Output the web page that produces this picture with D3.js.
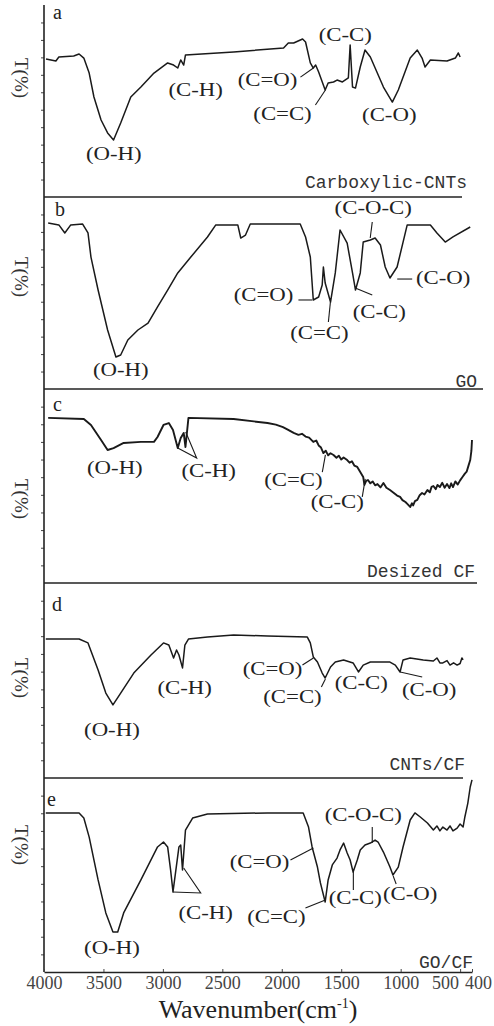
<!DOCTYPE html>
<html>
<head>
<meta charset="utf-8">
<script src="https://cdn.jsdelivr.net/npm/d3@7"></script>
<style>
  body { margin: 0; background: #fff; }
  svg { display: block; }
</style>
</head>
<body>
<div id="chart"></div>
<script>
// tick labels along the wavenumber axis
const wavenumberTicks = [4000, 3500, 3000, 2500, 2000, 1500, 1000, 500, 400];
const panelLetters = ['a', 'b', 'c', 'd', 'e'];
const sampleNames = ['Carboxylic-CNTs', 'GO', 'Desized CF', 'CNTs/CF', 'GO/CF'];

// spectra: [wavenumber (cm-1), transmittance (arb.)]
const spectrumA = [[3983,79.1],[3900,77.9],[3875,80.2],[3750,80.8],[3705,81.9],[3665,79.6],[3620,71.0],[3580,57.3],[3520,44.1],[3465,36.7],[3415,32.7],[3355,42.4],[3270,57.3],[3185,63.0],[3075,71.0],[2960,76.8],[2910,75.6],[2875,73.9],[2850,78.5],[2825,75.6],[2810,81.4],[2405,83.1],[1985,85.4],[1945,88.2],[1900,88.2],[1825,90.5],[1800,88.8],[1760,76.8],[1735,73.9],[1715,75.6],[1690,71.6],[1635,61.3],[1610,65.3],[1565,65.9],[1535,67.0],[1490,65.9],[1440,68.2],[1425,87.1],[1405,63.0],[1380,62.4],[1340,74.5],[1300,84.2],[1255,80.2],[1145,63.0],[1070,54.4],[1020,61.3],[920,79.6],[860,84.2],[820,79.6],[795,74.5],[750,78.5],[610,77.9],[540,79.6],[515,82.5],[500,80.2]];

const spectrumB = [[3965,95.1],[3875,94.0],[3825,89.4],[3775,94.0],[3675,94.5],[3630,89.4],[3605,75.6],[3545,56.7],[3465,33.8],[3395,18.3],[3355,19.5],[3295,28.1],[3210,33.8],[3125,37.8],[3045,47.0],[2960,56.7],[2875,66.5],[2765,75.6],[2625,87.1],[2555,94.0],[2370,94.0],[2345,86.5],[2305,88.2],[2265,94.5],[1845,94.5],[1800,87.1],[1760,75.6],[1735,51.0],[1690,52.7],[1660,59.6],[1650,69.9],[1635,60.7],[1590,49.8],[1550,66.5],[1510,91.1],[1450,83.6],[1405,66.5],[1380,56.7],[1340,66.5],[1315,84.2],[1255,85.4],[1215,86.5],[1170,82.5],[1130,69.9],[1090,63.6],[1030,69.9],[945,94.0],[750,94.0],[695,89.4],[625,84.2],[560,87.1],[415,92.8]];

const spectrumC = [[3965,93.6],[3665,93.0],[3605,89.6],[3520,81.1],[3465,75.4],[3415,76.5],[3330,79.4],[3185,80.0],[3075,80.0],[3045,82.8],[2995,89.6],[2950,90.7],[2915,86.8],[2875,76.5],[2850,82.2],[2825,85.1],[2810,77.1],[2785,93.6],[2405,93.0],[2120,90.7],[2050,89.8],[1990,88.4],[1950,87.0],[1900,85.1],[1860,84.0],[1830,84.6],[1800,83.0],[1770,82.4],[1735,80.0],[1710,80.8],[1690,78.0],[1670,76.8],[1650,73.7],[1630,75.0],[1610,72.4],[1590,73.6],[1565,72.6],[1540,71.0],[1520,72.2],[1500,70.0],[1480,71.2],[1450,69.7],[1430,68.2],[1410,69.0],[1390,66.6],[1365,65.8],[1340,63.0],[1315,60.1],[1305,55.6],[1290,57.9],[1275,58.4],[1255,56.5],[1235,57.6],[1215,55.4],[1195,56.1],[1170,54.2],[1145,56.7],[1120,54.0],[1090,52.7],[1060,51.2],[1030,49.6],[1005,48.8],[985,47.0],[960,45.9],[940,44.6],[920,43.1],[905,45.2],[895,44.0],[880,46.4],[860,47.1],[840,49.8],[820,51.0],[800,50.2],[775,52.7],[755,51.4],[740,54.5],[725,55.0],[705,53.2],[690,55.6],[670,54.4],[650,56.8],[630,54.0],[610,56.1],[590,53.8],[575,56.5],[560,54.4],[540,57.6],[520,55.8],[500,58.2],[480,60.1],[460,62.0],[445,63.1],[430,66.4],[415,69.7],[405,75.0],[400,81.1]];

const spectrumD = [[3985,78.4],[3705,78.4],[3630,76.2],[3545,60.9],[3480,47.9],[3420,41.2],[3355,47.9],[3245,59.2],[3100,69.4],[2995,76.2],[2950,75.0],[2910,67.7],[2885,72.2],[2865,69.4],[2835,62.1],[2815,75.0],[2785,78.4],[2625,79.5],[2405,80.7],[2120,80.1],[1785,79.5],[1760,76.2],[1735,68.3],[1700,65.4],[1660,59.2],[1635,56.4],[1590,62.6],[1550,65.4],[1480,66.6],[1400,64.9],[1355,59.8],[1315,63.7],[1255,65.4],[1090,65.4],[1045,63.7],[1005,59.8],[980,66.6],[920,67.7],[810,66.6],[725,66.0],[695,67.7],[670,64.9],[645,64.9],[610,66.2],[585,63.7],[555,65.0],[525,63.7],[500,64.6],[485,67.7],[475,66.6]];

const spectrumE = [[3985,90.2],[3705,90.2],[3665,87.3],[3620,76.5],[3545,52.2],[3480,33.5],[3420,22.7],[3380,22.7],[3330,33.5],[3185,52.2],[3045,70.9],[2995,73.7],[2960,70.9],[2935,57.8],[2915,45.4],[2865,70.9],[2850,72.0],[2835,57.8],[2810,80.5],[2750,87.3],[2625,89.6],[2120,90.2],[1820,90.2],[1775,82.2],[1745,70.9],[1700,59.5],[1675,50.5],[1635,39.7],[1610,52.2],[1575,60.7],[1535,64.6],[1510,69.2],[1480,73.1],[1450,67.5],[1425,63.5],[1400,56.7],[1365,63.5],[1340,69.2],[1300,72.0],[1255,73.1],[1215,74.8],[1190,73.7],[1145,68.0],[1090,59.5],[1065,55.0],[1020,59.5],[980,70.9],[920,86.2],[880,90.2],[835,87.9],[775,84.5],[725,80.5],[695,82.8],[670,80.0],[645,82.2],[610,80.5],[585,82.8],[560,80.0],[525,81.6],[500,83.9],[475,82.2],[460,87.9],[435,95.8],[415,104.9],[400,108.9]];

// band labels: [text, wavenumber, transmittance]
const labelsA = [['(O-H)',3413,21.2],['(C-H)',2724,57.9],['(C=O)',2120,63.6],['(C=C)',1994,44.1],['(C-C)',1466,89.4],['(C-O)',1096,43.5]];
const labelsB = [['(O-H)',3354,7.4],['(C=O)',2154,50.4],['(C=C)',1684,28.6],['(C-C)',1180,40.7],['(C-O-C)',1231,100.3],['(C-O)',643,60.2]];
const labelsC = [['(O-H)',3404,61.8],['(C-H)',2615,60.1],['(C=C)',1902,55.0],['(C-C)',1533,42.5]];
const labelsD = [['(O-H)',3429,23.7],['(C-H)',2817,47.4],['(C=O)',2078,58.1],['(C=C)',1910,42.3],['(C-C)',1331,50.2],['(C-O)',761,46.3]];
const labelsE = [['(O-H)',3429,10.2],['(C-H)',2640,30.1],['(C=O)',2187,59.0],['(C=C)',2045,27.8],['(C-C)',1382,38.6],['(C-O)',920,40.8],['(C-O-C)',1315,85.6]];

// leader lines from labels to bands
const leadersA = [[[1843,68.7],[1734,73.9]], [[1717,52.7],[1633,61.3]]];
const leadersB = [[[1860,51.0],[1743,51.0]], [[1608,38.4],[1591,49.8]], [[1382,57.9],[1239,53.9]], [[1239,95.7],[1256,86.5]], [[1029,63.0],[903,63.0]]];
const leadersC = [[[2875,76.5],[2716,70.9],[2808,85.6]], [[1659,62.9],[1633,72.6]], [[1323,48.8],[1298,59.0]]];
const leadersD = [[[1826,63.7],[1734,67.7]], [[1667,51.3],[1633,55.8]], [[1004,59.8],[819,57.0]]];
const leadersE = [[[2917,45.4],[2682,44.8],[2825,59.0]], [[1927,63.5],[1734,70.3]], [[1801,36.3],[1633,40.8]], [[1398,56.7],[1398,46.5]], [[1063,54.4],[1038,49.9]], [[1239,82.2],[1239,73.1]]];

const spectra = [spectrumA, spectrumB, spectrumC, spectrumD, spectrumE];
const bandLabels = [labelsA, labelsB, labelsC, labelsD, labelsE];
const leaders = [leadersA, leadersB, leadersC, leadersD, leadersE];

// layout
const W = 494, H = 1026;
const left = 44, right = 472;
const tops = [5, 197, 389, 583, 778];
const bottoms = [197, 389, 583, 778, 972];
const sepEnds = [462, 483, 477, 463];
const letterPos = [[53, 19], [55, 216], [53, 411], [52, 611], [47, 806]];
const namePos = [[467, 188], [477, 387], [475, 577], [465, 770], [473, 968]];
const yLabelMid = [78, 277, 499, 678, 845];

const ink = '#1a1a1a';
const serif = '"Liberation Serif", "Times New Roman", serif';
const mono = '"Liberation Mono", "Courier New", monospace';

const x = d3.scaleLinear().domain([4000, 400]).range([left, right]);

const svg = d3.select('#chart').append('svg')
  .attr('width', W).attr('height', H)
  .attr('viewBox', [0, 0, W, H]);

svg.append('rect').attr('width', W).attr('height', H).attr('fill', '#fff');

const line = d3.line();

spectra.forEach((data, i) => {
  const y = d3.scaleLinear().domain([0, 110]).range([bottoms[i], tops[i]]);
  const g = svg.append('g').attr('class', 'panel-' + panelLetters[i]);

  // y ticks (no labels)
  g.append('g')
    .attr('transform', `translate(${left},0)`)
    .call(d3.axisLeft(y).tickValues(d3.range(10, 101, 10)).tickSize(3).tickFormat(''))
    .call((a) => a.select('.domain').remove())
    .call((a) => a.selectAll('line').attr('stroke', '#444'));

  // separator below panel
  if (i < 4) {
    g.append('line')
      .attr('x1', left).attr('x2', sepEnds[i])
      .attr('y1', bottoms[i]).attr('y2', bottoms[i])
      .attr('stroke', '#222').attr('stroke-width', 1.4);
  }

  g.append('path')
    .datum(data)
    .attr('fill', 'none')
    .attr('stroke', ink)
    .attr('stroke-width', i === 2 ? 1.9 : 1.5)
    .attr('stroke-linejoin', 'round')
    .attr('d', line.x((d) => x(d[0])).y((d) => y(d[1])));

  g.selectAll('path.leader')
    .data(leaders[i])
    .join('path')
    .attr('class', 'leader')
    .attr('fill', 'none')
    .attr('stroke', ink)
    .attr('stroke-width', 1.1)
    .attr('d', line.x((d) => x(d[0])).y((d) => y(d[1])));

  g.selectAll('text.band')
    .data(bandLabels[i])
    .join('text')
    .attr('class', 'band')
    .attr('transform', (d) => `translate(${x(d[1])},${y(d[2])}) scale(1.2,1)`)
    .attr('text-anchor', 'middle')
    .attr('font-family', serif)
    .attr('font-size', 19)
    .attr('fill', '#222')
    .text((d) => d[0]);

  g.append('text')
    .attr('x', letterPos[i][0]).attr('y', letterPos[i][1])
    .attr('font-family', serif).attr('font-size', 20)
    .attr('fill', '#222')
    .text(panelLetters[i]);

  g.append('text')
    .attr('x', namePos[i][0]).attr('y', namePos[i][1])
    .attr('text-anchor', 'end')
    .attr('font-family', mono).attr('font-size', 18)
    .attr('fill', '#333')
    .text(sampleNames[i]);

  // y title, turned clockwise as in the original figure
  g.append('text')
    .attr('transform', `translate(15,${yLabelMid[i]}) rotate(90)`)
    .attr('text-anchor', 'middle')
    .attr('font-family', serif).attr('font-size', 19)
    .attr('fill', '#333')
    .text('T(%)');
});

// left axis spine across all panels
svg.append('line')
  .attr('x1', left).attr('x2', left)
  .attr('y1', 5).attr('y2', bottoms[4])
  .attr('stroke', '#222').attr('stroke-width', 1.6);

// bottom wavenumber axis
const xAxis = svg.append('g')
  .attr('transform', `translate(0,${bottoms[4]})`)
  .call(d3.axisBottom(x).tickValues(wavenumberTicks).tickFormat(d3.format('d'))
    .tickSize(-3).tickPadding(4).tickSizeOuter(0));
xAxis.select('.domain').attr('stroke', '#222').attr('stroke-width', 1.6);
xAxis.selectAll('line').attr('stroke', '#444');
xAxis.selectAll('text')
  .attr('font-family', serif)
  .attr('font-size', 18)
  .attr('fill', '#444')
  .attr('dx', (d) => (d === 500 ? -15 : d === 400 ? 6 : 0));

const title = svg.append('text')
  .attr('x', 258).attr('y', 1018)
  .attr('text-anchor', 'middle')
  .attr('font-family', serif).attr('font-size', 26)
  .attr('fill', '#222');
title.append('tspan').text('Wavenumber(cm');
title.append('tspan').attr('font-size', 14).attr('dy', -10).text('-1');
title.append('tspan').attr('dy', 10).text(')');
</script>
</body>
</html>
